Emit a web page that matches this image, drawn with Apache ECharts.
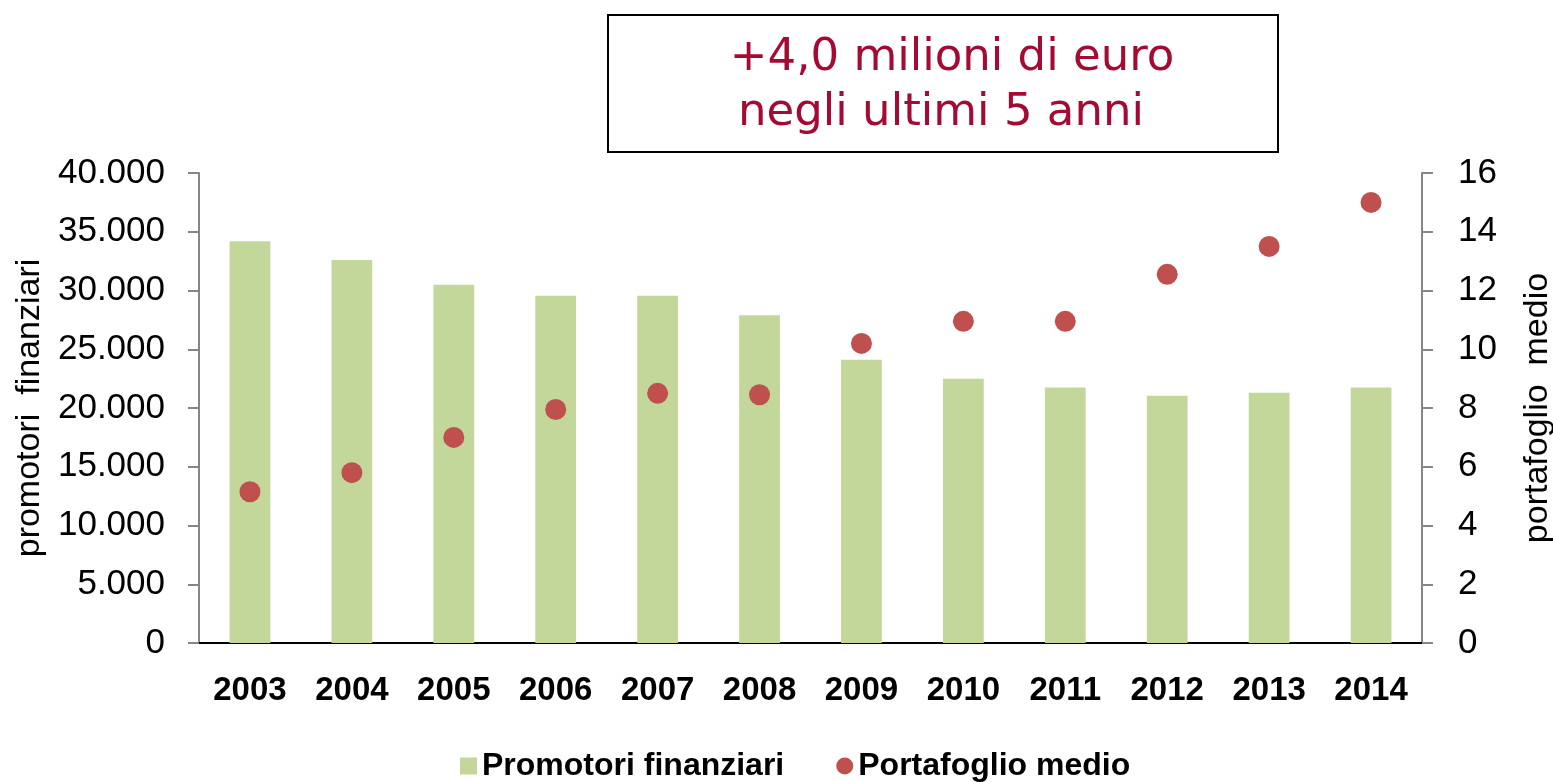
<!DOCTYPE html>
<html>
<head>
<meta charset="utf-8">
<title>Promotori finanziari e portafoglio medio</title>
<script src="https://cdn.jsdelivr.net/npm/echarts@6/dist/echarts.min.js"></script>
<style>
html,body{margin:0;padding:0;background:#ffffff;}
#main{width:1553px;height:782px;}
</style>
</head>
<body>
<div id="main"></div>
<script>
// dati
var anni=['2003','2004','2005','2006','2007','2008','2009','2010','2011','2012','2013','2014'];
var promotori=[34200,32600,30500,29550,29550,27900,24100,22500,21750,21050,21300,21750];
var portafoglio=[5.15,5.8,7.0,7.95,8.5,8.45,10.2,10.95,10.95,12.55,13.5,15.0];
var titoloRighe=['+4,0 milioni di euro','negli ultimi 5 anni'];

var coloreBarre='#C4D79B';
var colorePunti='#C0504D';
var grigioAsse='#868686';
var fontBase='Liberation Sans, Arial, sans-serif';

/**
 * separatore delle migliaia con il punto
 */
function formatMigliaia(v)
{
	return String(v).replace(/\B(?=(\d{3})+(?!\d))/g,'.');
}

var myChart=echarts.init(document.getElementById('main'));
var option={
	backgroundColor:'#ffffff',
	animation:false,
	grid:{left:199,right:131,top:173,bottom:139,containLabel:false,outerBoundsMode:'none'},
	legend:{
		left:455,
		top:745,
		itemWidth:17,
		itemHeight:17,
		itemGap:52,
		textStyle:{fontFamily:fontBase,fontWeight:'bold',fontSize:32,color:'#000000'},
		data:[
			{name:'Promotori finanziari',icon:'rect'},
			{name:'Portafoglio medio',icon:'circle'}
		]
	},
	graphic:[
		{
			type:'rect',
			left:607,
			top:14,
			shape:{width:670,height:137},
			style:{fill:'#ffffff',stroke:'#000000',lineWidth:2}
		},
		{
			type:'text',
			x:952,
			y:58,
			style:{text:titoloRighe[0],fill:'#A50B32',font:'45px "DejaVu Sans", sans-serif',align:'center',verticalAlign:'middle'}
		},
		{
			type:'text',
			x:941,
			y:113,
			style:{text:titoloRighe[1],fill:'#A50B32',font:'45px "DejaVu Sans", sans-serif',align:'center',verticalAlign:'middle'}
		}
	],
	xAxis:{
		type:'category',
		data:anni,
		axisLine:{lineStyle:{color:'#000000',width:2}},
		axisTick:{length:10,lineStyle:{color:'#000000',width:2}},
		axisLabel:{margin:31,fontFamily:fontBase,fontWeight:'bold',fontSize:33,color:'#000000'},
		splitLine:{show:false}
	},
	yAxis:[
		{
			type:'value',
			min:0,
			max:40000,
			interval:5000,
			name:'promotori  finanziari',
			nameLocation:'middle',
			nameRotate:90,
			nameGap:152,
			nameTextStyle:{fontFamily:fontBase,fontSize:34,color:'#000000'},
			axisLine:{show:true,lineStyle:{color:grigioAsse,width:2}},
			axisTick:{show:true,length:11,lineStyle:{color:grigioAsse,width:2}},
			axisLabel:{margin:34,fontFamily:fontBase,fontSize:35,color:'#000000',formatter:formatMigliaia},
			splitLine:{show:false}
		},
		{
			type:'value',
			min:0,
			max:16,
			interval:2,
			position:'right',
			name:'portafoglio  medio',
			nameLocation:'middle',
			nameRotate:90,
			nameGap:99,
			nameTextStyle:{fontFamily:fontBase,fontSize:34,color:'#000000'},
			axisLine:{show:true,lineStyle:{color:grigioAsse,width:2}},
			axisTick:{show:true,length:11,lineStyle:{color:grigioAsse,width:2}},
			axisLabel:{margin:36,fontFamily:fontBase,fontSize:35,color:'#000000'},
			splitLine:{show:false}
		}
	],
	series:[
		{
			name:'Promotori finanziari',
			type:'bar',
			yAxisIndex:0,
			barWidth:'40%',
			data:promotori,
			itemStyle:{color:coloreBarre}
		},
		{
			name:'Portafoglio medio',
			type:'scatter',
			yAxisIndex:1,
			symbol:'circle',
			symbolSize:21,
			data:portafoglio,
			itemStyle:{color:colorePunti,opacity:1}
		}
	]
};
myChart.setOption(option);
</script>
</body>
</html>
